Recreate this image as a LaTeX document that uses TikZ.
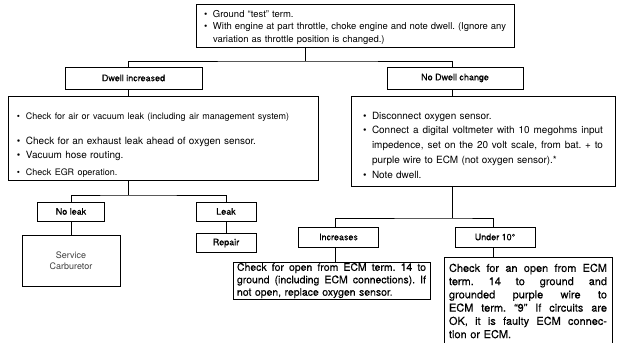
\documentclass[tikz,border=0pt]{standalone}
\usepackage{fontspec}
\setmainfont{TeX Gyre Heros}
% a slightly heavier cut for the printed labels
\newfontfamily\medfont{TeX Gyre Heros}[FakeBold=0.35,Ligatures=TeX]
% bullet with a hanging gap
\newcommand{\bul}{\makebox[9bp][l]{\textbullet}}
% a justified line: word spaces stretched to the given width
\newcommand{\sline}[2]{{\spaceskip=\fontdimen2\font plus 1fil\relax
  \xspaceskip=\fontdimen2\font plus 1fil\relax\makebox[#1][s]{#2}}}
\begin{document}
\begin{tikzpicture}[x=1bp,y=-1bp,
  box/.style={draw, line width=0.9bp, inner sep=0pt, align=left},
  lbl/.style={draw, line width=0.9bp, inner sep=0pt, align=center,
    font=\fontsize{9}{11}\selectfont\medfont},
  wire/.style={line width=0.8bp}]
\useasboundingbox (0,0) rectangle (618,342);
\begin{scope}
\clip (0,0) rectangle (618,342);

% top instruction box
\node[box, minimum width=318bp, minimum height=43bp, text width=302bp,
  font=\fontsize{9.5}{13}\selectfont] (top) at (355,25.5)
  {\rule{0pt}{11bp}\bul Ground ``test'' term.\\
   \bul\sline{293bp}{With engine at part throttle, choke engine and note dwell. (Ignore any}\\
   \hspace*{9bp}variation as throttle position is changed.)};

% first branch labels
\node[lbl, minimum width=137bp, minimum height=22bp] (dwell) at (133.5,78) {Dwell increased};
\node[lbl, minimum width=136bp, minimum height=22bp] (nodw) at (455,78) {No Dwell change};

% left check list
\node[box, minimum width=310bp, minimum height=84bp, text width=292bp,
  font=\fontsize{10}{14}\selectfont] (lbig) at (163,138)
  {{\fontsize{9}{14}\selectfont\rule{0pt}{21bp}\bul Check for air or vacuum leak (including air management system)}\\[11bp]
   \bul Check for an exhaust leak ahead of oxygen sensor.\\
   \bul Vacuum hose routing.\\[4bp]
   {\fontsize{9}{14}\selectfont\bul Check EGR operation.}};

% right check list
\node[box, minimum width=264bp, minimum height=90bp, text width=240bp,
  font=\fontsize{10}{15}\selectfont] (rbig) at (483,141)
  {\rule{0pt}{16bp}\bul Disconnect oxygen sensor.\\
   \bul\sline{231bp}{Connect a digital voltmeter with 10 megohms input}\\
   \hspace*{9bp}\sline{231bp}{impedence, set on the 20 volt scale, from bat. + to}\\
   \hspace*{9bp}purple wire to ECM (not oxygen sensor).*\\
   \bul Note dwell.};

% leak branches
\node[lbl, minimum width=67bp, minimum height=19bp] (noleak) at (71,211.5) {No leak};
\node[lbl, minimum width=60bp, minimum height=19bp] (leak) at (226,211.5) {Leak};
\node[box, align=center, minimum width=98bp, minimum height=51bp,
  font=\fontsize{9}{11}\selectfont, text=black!75] (service) at (71,260.5) {Service\\Carburetor};
\node[lbl, minimum width=60bp, minimum height=19bp] (repair) at (226,243) {Repair};

% dwell reading branches
\node[lbl, minimum width=80bp, minimum height=20bp] (incr) at (338.5,237) {Increases};
\node[lbl, minimum width=80bp, minimum height=20bp] (under) at (495,237) {Under 10°};

\node[box, minimum width=197bp, minimum height=37bp, text width=189bp,
  font=\fontsize{10.5}{12.5}\selectfont\medfont] (chk1) at (331.5,280.5)
  {\sline{189bp}{Check for open from ECM term. 14 to}\\
   \sline{189bp}{ground (including ECM connections). If}\\
   not open, replace oxygen sensor.};
\node[box, minimum width=168bp, minimum height=88bp, text width=158bp,
  font=\fontsize{11}{13.3}\selectfont\medfont] (chk2) at (528,301)
  {\sline{158bp}{Check for an open from ECM}\\
   \sline{158bp}{term. 14 to ground and}\\
   \sline{158bp}{grounded purple wire to}\\
   \sline{158bp}{ECM term. “9” If circuits are}\\
   \sline{158bp}{OK, it is faulty ECM connec-}\\
   tion or ECM.};

% connectors
\coordinate (t1) at (305,61);
\coordinate (d1) at (128,0);
\coordinate (d2) at (452,0);
\draw[wire] (top.south -| t1) -- (t1);
\draw[wire] (dwell.north -| d1) |- (t1) -| (nodw.north -| d2);
\draw[wire] (dwell.south -| d1) -- (lbig.north -| d1);
\draw[wire] (nodw.south -| d2) -- (rbig.north -| d2);

\coordinate (t2) at (128,195);
\draw[wire] (lbig.south -| t2) -- (t2);
\draw[wire] (noleak.north) |- (t2) -| (leak.north);
\draw[wire] (noleak.south) -- (service.north -| noleak.south);
\draw[wire] (leak.south) -- (repair.north);

\coordinate (t3) at (452,218);
\coordinate (i1) at (335,0);
\coordinate (u1) at (493,0);
\draw[wire] (rbig.south -| t3) -- (t3);
\draw[wire] (incr.north -| i1) |- (t3) -| (under.north -| u1);
\draw[wire] (incr.south -| i1) -- (chk1.north -| i1);
\draw[wire] (under.south -| u1) -- (chk2.north -| u1);
\end{scope}
\end{tikzpicture}
\end{document}
